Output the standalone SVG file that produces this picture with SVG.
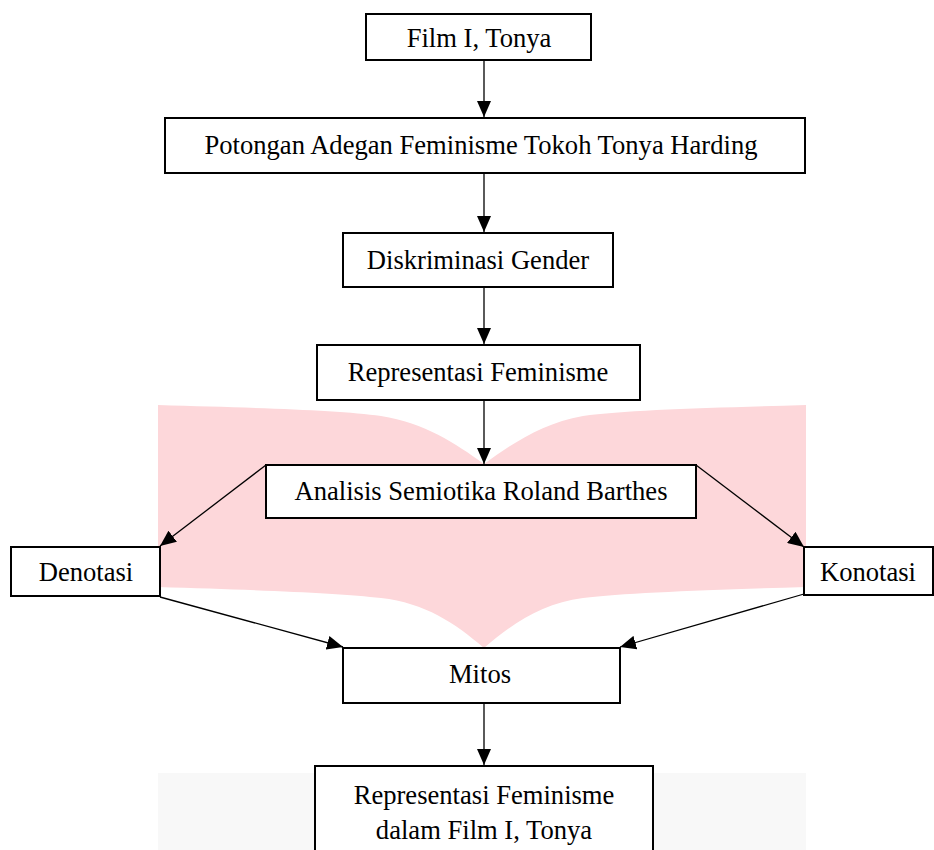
<svg xmlns="http://www.w3.org/2000/svg" width="934" height="850" viewBox="0 0 934 850">
<style>
.box{fill:#fff;stroke:#000;stroke-width:2}
.lbl{font-family:"Liberation Serif","Times New Roman",serif;font-size:26.6px;fill:#000;text-anchor:middle}
.con{stroke:#000;stroke-width:1.3;fill:none;marker-end:url(#ah)}
</style>
<defs>
<marker id="ah" markerUnits="userSpaceOnUse" markerWidth="18" markerHeight="14" refX="16" refY="7" orient="auto">
<path d="M0,0 L16,7 L0,14 Z" fill="#000"/>
</marker>
</defs>
<rect width="934" height="850" fill="#fff"/>
<path d="M158,405 C260,408 340,410 381,416 C425,423 455,443 484,464 C513,443 543,423 583,416 C625,410 705,408 806,405 L806,587 C705,590 625,593 583,598 C543,603 513,623 484,648 C455,623 425,603 381,598 C340,593 260,590 158,587 Z" fill="#fdd7da"/>
<rect x="158" y="773" width="648" height="77" fill="#f8f8f8"/>
<g id="connectors">
<line class="con" x1="484" y1="60" x2="484" y2="117"/>
<line class="con" x1="484" y1="173" x2="484" y2="232"/>
<line class="con" x1="484" y1="287" x2="484" y2="344"/>
<line class="con" x1="484" y1="400" x2="484" y2="464"/>
<line class="con" x1="266" y1="465" x2="160" y2="546"/>
<line class="con" x1="696" y1="465" x2="804" y2="547"/>
<line class="con" x1="160" y1="597" x2="343" y2="647"/>
<line class="con" x1="804" y1="594" x2="620" y2="647"/>
<line class="con" x1="484" y1="703" x2="484" y2="765"/>
</g>
<g id="n1"><rect class="box" x="366" y="14" width="225" height="46"/><text class="lbl" x="479" y="47">Film I, Tonya</text></g>
<g id="n2"><rect class="box" x="165" y="118" width="640" height="55"/><text class="lbl" x="481" y="154">Potongan Adegan Feminisme Tokoh Tonya Harding</text></g>
<g id="n3"><rect class="box" x="343" y="233" width="270" height="54"/><text class="lbl" x="478" y="269">Diskriminasi Gender</text></g>
<g id="n4"><rect class="box" x="317" y="345" width="323" height="55"/><text class="lbl" x="478" y="381">Representasi Feminisme</text></g>
<g id="n5"><rect class="box" x="266" y="465" width="430" height="53"/><text class="lbl" x="481" y="500">Analisis Semiotika Roland Barthes</text></g>
<g id="n6"><rect class="box" x="11" y="547" width="149" height="49"/><text class="lbl" x="86" y="581">Denotasi</text></g>
<g id="n7"><rect class="box" x="804" y="547" width="129" height="48"/><text class="lbl" x="868" y="581">Konotasi</text></g>
<g id="n8"><rect class="box" x="343" y="648" width="277" height="55"/><text class="lbl" x="480" y="683">Mitos</text></g>
<g id="n9"><rect class="box" x="315" y="766" width="338" height="100"/><text class="lbl" x="484" y="804">Representasi Feminisme</text><text class="lbl" x="484" y="839">dalam Film I, Tonya</text></g>
</svg>
